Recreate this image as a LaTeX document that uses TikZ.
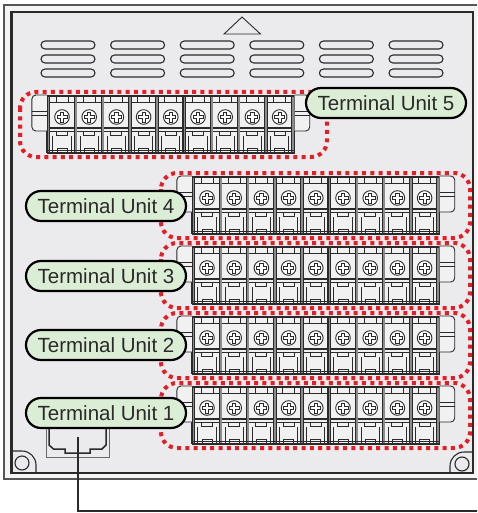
\documentclass[tikz,border=0pt]{standalone}
\usepackage{fontspec}
\setmainfont{Liberation Sans}
\definecolor{panelbg}{HTML}{EBEBED}
\definecolor{bandbg}{HTML}{F5F5F5}
\definecolor{lblgreen}{HTML}{DCEDD6}
\definecolor{dotred}{HTML}{E41E26}
\definecolor{ink}{HTML}{2A2A2A}
\definecolor{wallgray}{HTML}{8C8C8C}
\definecolor{bodyfill}{HTML}{F1F1F2}
\tikzset{
 ln/.style={draw=ink, line width=0.9pt},
 vent/.style={draw=ink, line width=1.1pt, rounded corners=4pt},
 reddots/.style={draw=dotred, line width=4pt, dash pattern=on 4pt off 4.3pt, rounded corners=16pt},
 unitlabel/.style={draw=black, line width=2.2pt, fill=lblgreen, rounded corners=15pt,
   minimum width=160pt, minimum height=30pt, inner sep=0pt, text=ink,
   font=\fontsize{20.5}{24}\selectfont},
 tblock/.pic={
   \fill[wallgray] (0,0) rectangle (3,57);
   \draw[ln, line width=1.2pt] (0,0) -- (0,57) (3,0) -- (3,57);
   \fill[bodyfill] (3,0) rectangle (27.2,57);
   \draw[ln] (3,6) -- (27.2,6);
   \draw[ln] (9.1,0) rectangle (21.1,6);
   \draw[ln] (6,40) -- (6,57) (24.2,40) -- (24.2,57);
   \draw[ln, fill=white] (15.1,21) circle (7.3pt);
   \draw[ln] (13.5,16) -- (16.7,16) -- (16.7,19.4) -- (20.1,19.4) -- (20.1,22.6) -- (16.7,22.6)
     -- (16.7,26) -- (13.5,26) -- (13.5,22.6) -- (10.1,22.6) -- (10.1,19.4) -- (13.5,19.4) -- cycle;
   \draw[ink, line width=1.6pt] (3,32) -- (27.2,32);
   \draw[ln] (3,35) -- (27.2,35);
   \draw[ln] (9.6,35) rectangle (20.6,39.5);
   \draw[ln] (10.1,52) rectangle (20.1,57);
 },
}
\newcommand\drawstrip[2]{%
  \foreach \i in {0,...,8} { \pic at ({#1+\i*27.2},#2) {tblock}; }
  \fill[wallgray] ({#1+9*27.2},#2) rectangle ++(3,57);
  \draw[ln, line width=1.2pt] ({#1+9*27.2},#2) -- ++(0,57) ({#1+9*27.2+3},#2) -- ++(0,57);
  \draw[ink, line width=1.6pt] (#1,#2) -- ({#1+9*27.2+3},#2);
  \draw[ink, line width=1.6pt] (#1,{#2+57}) -- ({#1+9*27.2+3},{#2+57});
  \draw[ln] (#1,{#2+54.5}) -- ({#1+9*27.2+3},{#2+54.5});
  \draw[ln, fill=bodyfill, rounded corners=4pt] (#1,{#2-1}) -- ({#1-15},{#2-1}) -- ({#1-15},{#2+35}) -- (#1,{#2+35});
  \draw[ln] ({#1-15},{#2+15}) -- (#1,{#2+15}) ({#1-15},{#2+19.5}) -- (#1,{#2+19.5});
  \draw[ln, fill=bodyfill, rounded corners=4pt] ({#1+9*27.2+3},{#2-1}) -- ({#1+9*27.2+18},{#2-1}) -- ({#1+9*27.2+18},{#2+35}) -- ({#1+9*27.2+3},{#2+35});
  \draw[ln] ({#1+9*27.2+3},{#2+15}) -- ({#1+9*27.2+18},{#2+15}) ({#1+9*27.2+3},{#2+19.5}) -- ({#1+9*27.2+18},{#2+19.5});
}
\begin{document}
\begin{tikzpicture}[x=1pt,y=-1pt]
\useasboundingbox (0,0) rectangle (477,513);
\fill[white] (0,0) rectangle (477,513);
\clip (0,0) rectangle (477,513);
% panel
\draw[draw=ink!80, fill=bandbg, line width=1.8pt] (4.3,5) rectangle (486,479);
\draw[draw=ink, fill=panelbg, line width=2.7pt] (11.3,12) rectangle (473,473);
% triangle
\draw[ln] (224,34) -- (242,17) -- (260.5,34) -- cycle;
% vents
\foreach \vx in {41,110.6,180.2,249.8,319.4,389} {
  \foreach \vy in {41,55,69} {
    \draw[vent] (\vx,\vy) rectangle ++(54,8);
  }
}
% corner pieces
\draw[ln, line width=1.1pt, rounded corners=14pt] (11.3,451) -- (36,451) -- (36,473);
\draw[ln, line width=1.1pt] (22,463) circle (7pt);
\draw[ln, line width=1.1pt, rounded corners=14pt] (473,452) -- (450,452) -- (450,473);
\draw[ln, line width=1.1pt] (462,464) circle (7pt);
% terminal strips
\drawstrip{46.9}{96}
\drawstrip{191.9}{177}
\drawstrip{191.9}{247}
\drawstrip{191.9}{317}
\drawstrip{191.9}{387}
% red dotted outlines
\draw[reddots] (20,92) rectangle (327,157);
\foreach \t in {177,247,317,387} {
  \draw[reddots] (161,\t-4) rectangle (470,\t+61);
}
% connector
\draw[draw=ink!70, line width=0.8pt] (46,428) rectangle (109,457);
\draw[ink, line width=1.5pt] (49,428) -- (49,445) -- (53.5,449) -- (65,449) -- (65,453) -- (90,453)
  -- (90,449) -- (102,449) -- (106,445) -- (106,428);
% labels
\node[unitlabel] (u5) at (386,103) {Terminal Unit 5};
\node[unitlabel] (u4) at (106,206) {Terminal Unit 4};
\node[unitlabel] (u3) at (106,276) {Terminal Unit 3};
\node[unitlabel] (u2) at (106,345) {Terminal Unit 2};
\node[unitlabel] (u1) at (106,413) {Terminal Unit 1};
% cable
\coordinate (plug) at (78,437);
\coordinate (cableend) at (486,511);
\draw[ink, line width=2.4pt] (plug) |- (cableend);
\end{tikzpicture}
\end{document}
